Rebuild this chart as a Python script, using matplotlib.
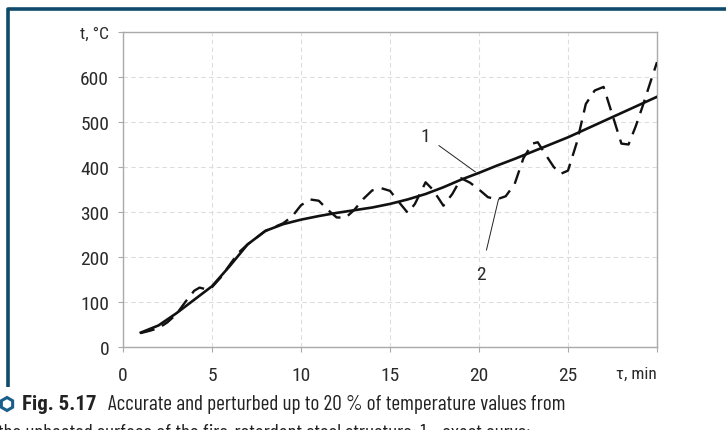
import matplotlib.pyplot as plt
from matplotlib.patches import RegularPolygon

plt.rcParams['font.family'] = ['Barlow Condensed', 'Roboto Condensed', 'DejaVu Sans']
TICKFONT = ['Roboto Condensed', 'DejaVu Sans']

# exact curve (1)
t_exact = [1, 2, 3, 4, 5, 6, 7, 8, 9, 10, 11, 12, 13, 14, 15,
           16, 17, 18, 19, 20, 21, 22, 23, 24, 25, 26, 27, 28, 29, 30]
T_exact = [32, 48, 75, 105, 135, 180, 228, 258, 273, 283, 291, 298, 304, 310, 318,
           328, 340, 355, 372, 387, 403, 418, 434, 450, 466, 484, 502, 520, 538, 556]

# perturbed curve (2)
t_pert = [1, 1.5, 2, 2.5, 3, 3.5, 4, 4.3, 4.7, 5, 5.5, 6, 6.5, 7, 8, 9, 9.5, 10,
          10.5, 11, 11.5, 12, 12.5, 13, 13.5, 14, 14.5, 15, 15.5, 16, 16.4, 17,
          17.4, 18, 18.5, 19, 19.5, 20, 20.5, 21, 21.5, 22, 22.5, 23, 23.3, 23.7,
          24.2, 24.6, 25, 25.5, 26, 26.5, 27, 27.5, 28, 28.4, 28.8, 29.2, 29.6, 30]
T_pert = [31, 36, 42, 55, 73, 100, 125, 132, 128, 133, 155, 183, 210, 228, 258, 275, 290, 315,
          328, 325, 305, 288, 287, 305, 329, 348, 353, 347, 322, 298, 318, 366,
          350, 314, 340, 375, 365, 350, 333, 328, 335, 362, 420, 452, 455, 430,
          400, 385, 392, 455, 540, 570, 578, 515, 452, 450, 490, 536, 585, 633]

x_ticks = [0, 5, 10, 15, 20, 25, 30]
x_labels = ['0', '5', '10', '15', '20', '25', 'τ, min']
y_ticks = [0, 100, 200, 300, 400, 500, 600, 700]
y_labels = ['0', '100', '200', '300', '400', '500', '600', 't, °C']

fig = plt.figure(figsize=(7.26, 4.31), dpi=100)
ax = fig.add_axes([123 / 726, 1 - 348 / 431, (657 - 123) / 726, (348 - 33) / 431])

ax.plot(t_exact, T_exact, color='#111111', lw=1.9, zorder=3)
ax.plot(t_pert, T_pert, color='#111111', lw=1.7, linestyle=(0, (6, 3.5)), zorder=3)

ax.set_xlim(0, 30)
ax.set_ylim(0, 700)
ax.set_xticks(x_ticks)
ax.set_xticklabels(x_labels)
ax.set_yticks(y_ticks)
ax.set_yticklabels(y_labels)
ax.tick_params(colors='#aaaaaa', labelcolor='#2a2a2a', length=3.5, width=0.8)
ax.tick_params(axis='x', pad=10)
ax.tick_params(axis='y', pad=6.5)
for lab in ax.get_xticklabels() + ax.get_yticklabels():
    lab.set_family(TICKFONT)
    lab.set_fontsize(14)
ax.get_xticklabels()[-1].set_fontsize(12.5)
ax.get_xticklabels()[-1].set_ha('right')
ax.get_yticklabels()[-1].set_fontsize(12.5)
for s in ax.spines.values():
    s.set_color('#aaaaaa')
    s.set_linewidth(1.0)
ax.grid(True, color='#dddddd', linestyle=(0, (4, 3)), lw=0.8)
ax.set_axisbelow(True)

# curve labels
ax.annotate('1', xy=(19.8, 389), xytext=(17.0, 469), fontsize=14, color='#2a2a2a',
            family=TICKFONT, ha='center', va='center',
            arrowprops=dict(arrowstyle='-', color='#222222', lw=0.7, shrinkA=5, shrinkB=0))
ax.annotate('2', xy=(21.1, 329), xytext=(20.1, 162), fontsize=14, color='#2a2a2a',
            family=TICKFONT, ha='center', va='center',
            arrowprops=dict(arrowstyle='-', color='#222222', lw=0.7, shrinkA=9, shrinkB=0))

# frame and caption in pixel coordinates
ov = fig.add_axes([0, 0, 1, 1], zorder=-1)
ov.set_xlim(0, 726)
ov.set_ylim(431, 0)
ov.axis('off')
ov.plot([8, 8, 726], [388, 10, 10], color='#0f4a6b', lw=2.6, solid_capstyle='butt')
ov.add_patch(RegularPolygon((7, 405), 6, radius=6.5, facecolor='none',
                            edgecolor='#1a5e8a', lw=2.2))
ov.text(22, 405, 'Fig. 5.17', fontsize=15, fontweight='bold', color='#222222', va='center',
        family=['Roboto Condensed', 'DejaVu Sans'])
ov.text(108, 405, 'Accurate and perturbed up to 20 % of temperature values from',
        fontsize=15.3, color='#222222', va='center')
ov.text(-2, 424, 'the unheated surface of the fire-retardant steel structure: 1 \u2013 exact curve;',
        fontsize=15.3, color='#222222', va='top')

fig.savefig('out.png', dpi=100)
